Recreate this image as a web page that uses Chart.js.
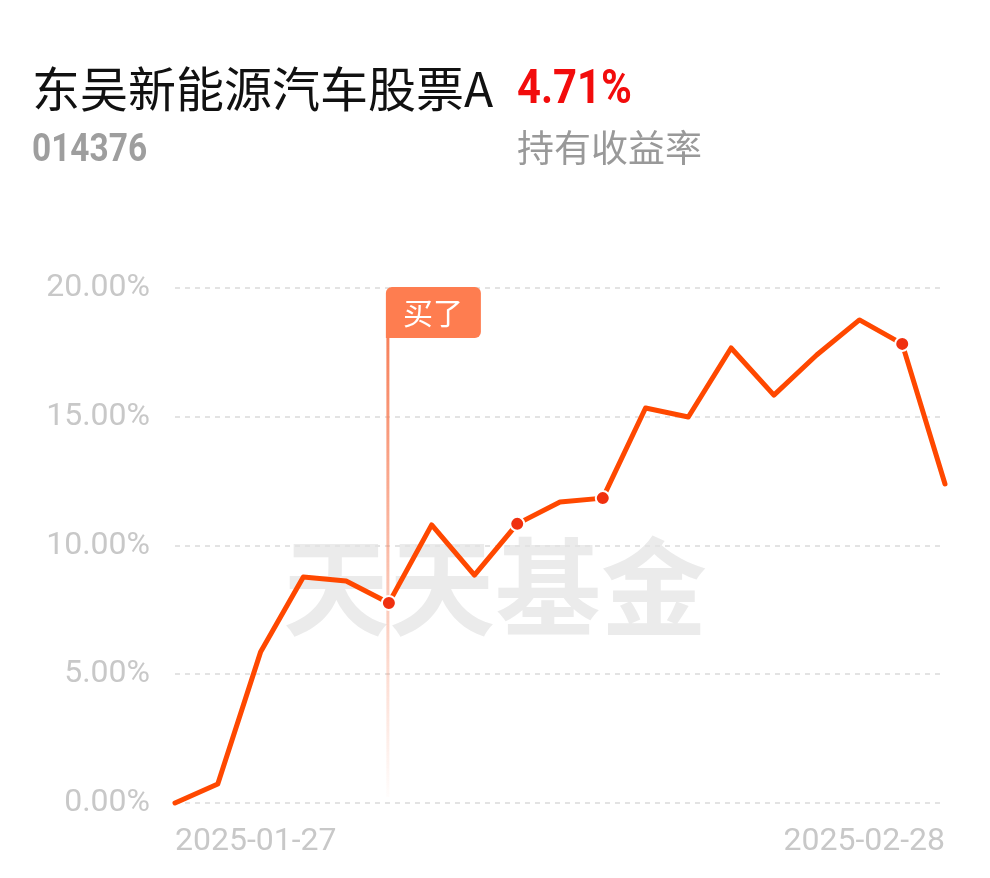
<!DOCTYPE html>
<html>
<head>
<meta charset="utf-8">
<script src="https://cdn.jsdelivr.net/npm/chart.js@4/dist/chart.umd.min.js"></script>
<style>
    body { margin: 0; background: #fff; }
    #wrap { position: relative; width: 990px; height: 878px; }
    #wrap canvas { position: absolute; left: 0; top: 0; }
    .hd { position: absolute; white-space: nowrap; line-height: 1; }
    #name { left: 32px; top: 51px; font: 48px "Noto Sans CJK SC", sans-serif; color: #111; }
    #rate { left: 517px; top: 58px; font: bold 48px Roboto, sans-serif; color: #f20c0c; transform: scaleX(0.87); transform-origin: left top; }
    #code { left: 32px; top: 126px; font: bold 38px Roboto, sans-serif; color: #9e9e9e; transform: scaleX(0.88); transform-origin: left top; }
    #rateLabel { left: 517px; top: 119px; font: 37px "Noto Sans CJK SC", sans-serif; color: #999; }
</style>
</head>
<body>
<div id="wrap">
    <canvas id="fundChart" width="990" height="878"></canvas>
    <div class="hd" id="name">东吴新能源汽车股票A</div>
    <div class="hd" id="rate">4.71%</div>
    <div class="hd" id="code">014376</div>
    <div class="hd" id="rateLabel">持有收益率</div>
</div>
<script>
// 交易日
const dates = ['2025-01-27', '2025-02-05', '2025-02-06', '2025-02-07', '2025-02-10', '2025-02-11',
    '2025-02-12', '2025-02-13', '2025-02-14', '2025-02-17', '2025-02-18', '2025-02-19',
    '2025-02-20', '2025-02-21', '2025-02-24', '2025-02-25', '2025-02-26', '2025-02-27', '2025-02-28'];
// 收益率 (%)
const returns = [0, 0.74, 5.86, 8.78, 8.62, 7.77, 10.80, 8.85, 10.84, 11.69, 11.84,
    15.34, 14.99, 17.67, 15.84, 17.40, 18.76, 17.83, 12.39];
// 带圆点的位置
const markedPoints = [5, 8, 10, 17];
const buyIndex = 5;
const buyText = '买了';
const yTicks = [0, 5, 10, 15, 20];
const watermark = '天天基金';

const lineColor = '#ff4800';
const dotColor = '#f0300f';

const watermarkPlugin = {
    id: 'watermark',
    beforeDraw(chart) {
        const ctx = chart.ctx;
        const area = chart.chartArea;
        ctx.save();
        ctx.font = 'bold 106px "Noto Sans CJK SC", sans-serif';
        ctx.fillStyle = '#ebebeb';
        ctx.textAlign = 'center';
        ctx.textBaseline = 'middle';
        ctx.fillText(watermark, (area.left + area.right) / 2 - 65, 587);
        ctx.restore();
    }
};

const buyPlugin = {
    id: 'buyMarker',
    beforeDatasetsDraw(chart) {
        const ctx = chart.ctx;
        const x = chart.scales.x.getPixelForValue(buyIndex) - 1;
        const top = chart.chartArea.top - 1;
        const bottom = chart.chartArea.bottom - 6;
        ctx.save();
        const grad = ctx.createLinearGradient(0, top + 50, 0, bottom);
        grad.addColorStop(0, 'rgba(247,128,90,1)');
        grad.addColorStop(0.6, 'rgba(247,128,90,0.4)');
        grad.addColorStop(1, 'rgba(247,128,90,0.02)');
        ctx.strokeStyle = grad;
        ctx.lineWidth = 3;
        ctx.beginPath();
        ctx.moveTo(x, top + 50);
        ctx.lineTo(x, bottom);
        ctx.stroke();

        ctx.fillStyle = '#fe7d50';
        ctx.beginPath();
        ctx.roundRect(x - 2, top, 95, 51, [6, 6, 6, 0]);
        ctx.fill();
        ctx.fillStyle = '#fff';
        ctx.font = '30px "Noto Sans CJK SC", sans-serif';
        ctx.textAlign = 'center';
        ctx.textBaseline = 'middle';
        ctx.fillText(buyText, x + 45, top + 26);
        ctx.restore();
    }
};

new Chart(document.getElementById('fundChart'), {
    type: 'line',
    data: {
        labels: dates,
        datasets: [{
            data: returns,
            borderColor: lineColor,
            borderWidth: 5,
            borderCapStyle: 'round',
            borderJoinStyle: 'round',
            tension: 0,
            fill: false,
            clip: false,
            pointRadius: ctx => markedPoints.includes(ctx.dataIndex) ? 7 : 0,
            pointHoverRadius: 0,
            pointBackgroundColor: dotColor,
            pointBorderColor: '#fff',
            pointBorderWidth: 2
        }]
    },
    plugins: [watermarkPlugin, buyPlugin],
    options: {
        responsive: false,
        animation: false,
        events: [],
        layout: { padding: { top: 288, right: 45, bottom: 0, left: 0 } },
        plugins: { legend: { display: false }, tooltip: { enabled: false } },
        scales: {
            x: {
                grid: { display: false, drawTicks: false },
                border: { display: false },
                afterFit: s => { s.height = 75; },
                ticks: {
                    autoSkip: false,
                    maxRotation: 0,
                    align: 'inner',
                    padding: 20,
                    color: '#c8c8c8',
                    font: { family: 'Roboto', size: 32 },
                    callback: (v, i) => (i === 0 || i === dates.length - 1) ? dates[i] : ''
                }
            },
            y: {
                min: yTicks[0],
                max: yTicks[yTicks.length - 1],
                afterFit: s => { s.width = 175; },
                afterBuildTicks: s => { s.ticks = yTicks.map(v => ({ value: v })); },
                grid: { color: '#e3e3e3', lineWidth: 2, drawTicks: false },
                border: { display: false, dash: [5, 5] },
                ticks: {
                    padding: 25,
                    color: '#c8c8c8',
                    font: { family: 'Roboto', size: 32 },
                    callback: v => v.toFixed(2) + '%'
                }
            }
        }
    }
});
</script>
</body>
</html>
